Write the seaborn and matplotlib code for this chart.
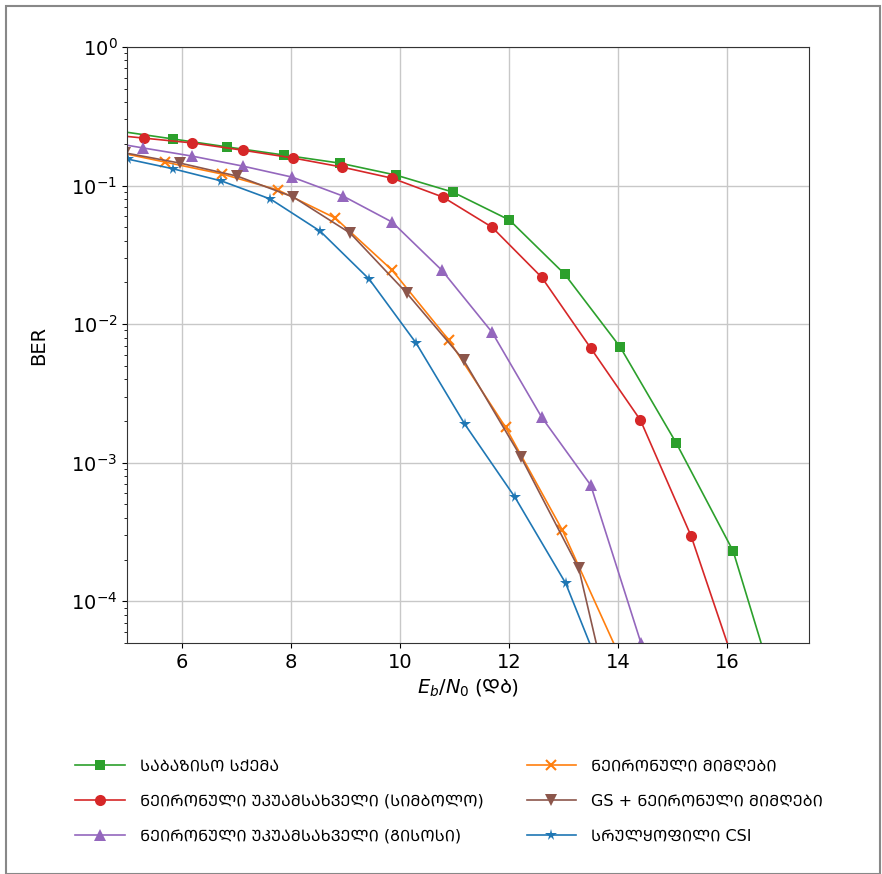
import numpy as np
import pandas as pd
import matplotlib
matplotlib.use("Agg")
import matplotlib.pyplot as plt
import seaborn as sns
from matplotlib.patches import Rectangle

# Eb/N0 (dB) and BER per scheme
baseline_x = [4.80, 5.84, 6.84, 7.88, 8.91, 9.93, 10.97, 12.01, 13.02, 14.04, 15.07, 16.11, 17.13]
baseline_ber = [0.249, 0.217, 0.190, 0.166, 0.145, 0.119, 0.0898, 0.0564, 0.0230, 0.00683, 0.00138, 2.30e-4, 1.1e-5]

demap_sym_x = [4.40, 5.31, 6.20, 7.12, 8.05, 8.94, 9.86, 10.79, 11.69, 12.60, 13.50, 14.41, 15.34, 16.26]
demap_sym_ber = [0.239, 0.220, 0.203, 0.180, 0.158, 0.136, 0.113, 0.0826, 0.0501, 0.0218, 0.00671, 0.00203, 2.95e-4, 2.5e-5]

demap_grid_x = [4.38, 5.29, 6.20, 7.13, 8.03, 8.96, 9.86, 10.77, 11.69, 12.60, 13.50, 14.42, 15.33]
demap_grid_ber = [0.215, 0.187, 0.163, 0.138, 0.115, 0.0840, 0.0545, 0.0245, 0.00875, 0.00213, 6.88e-4, 5.0e-5, 3.3e-6]

rx_x = [4.65, 5.69, 6.75, 7.77, 8.82, 9.86, 10.90, 11.94, 12.98, 14.03]
rx_ber = [0.180, 0.148, 0.121, 0.0928, 0.0582, 0.0245, 0.00766, 0.00180, 3.26e-4, 4.0e-5]

gs_rx_x = [4.97, 5.98, 7.02, 8.05, 9.09, 10.13, 11.17, 12.22, 13.28, 14.30]
gs_rx_ber = [0.172, 0.145, 0.117, 0.0826, 0.0454, 0.0167, 0.00550, 0.00110, 1.73e-4, 3.3e-6]

csi_x = [5.02, 5.85, 6.73, 7.63, 8.54, 9.44, 10.30, 11.19, 12.11, 13.04, 13.93]
csi_ber = [0.155, 0.132, 0.108, 0.0799, 0.0469, 0.0211, 0.00729, 0.00190, 5.64e-4, 1.35e-4, 1.8e-5]

labels = [
    "ᲡᲐᲑᲐᲖᲘᲡᲝ ᲡᲥᲔᲛᲐ",
    "ᲜᲔᲘᲠᲝᲜᲣᲚᲘ ᲣᲙᲣᲐᲛᲡᲐᲮᲕᲔᲚᲘ (ᲡᲘᲛᲑᲝᲚᲝ)",
    "ᲜᲔᲘᲠᲝᲜᲣᲚᲘ ᲣᲙᲣᲐᲛᲡᲐᲮᲕᲔᲚᲘ (ᲒᲘᲡᲝᲡᲘ)",
    "ᲜᲔᲘᲠᲝᲜᲣᲚᲘ ᲛᲘᲛᲦᲔᲑᲘ",
    "GS + ᲜᲔᲘᲠᲝᲜᲣᲚᲘ ᲛᲘᲛᲦᲔᲑᲘ",
    "ᲡᲠᲣᲚᲧᲝᲤᲘᲚᲘ CSI",
]
# the unit (dB) is set in the Georgian sans face via \mathsf
xlabel = r"$E_b/N_0\ \mathsf{(ᲓᲑ)}$"
ylabel = "BER"

series = [
    (baseline_x, baseline_ber, "tab:green", "s", 7, 0.0),
    (demap_sym_x, demap_sym_ber, "tab:red", "o", 8, 0.0),
    (demap_grid_x, demap_grid_ber, "tab:purple", "^", 8, 0.0),
    (rx_x, rx_ber, "tab:orange", "x", 7, 1.5),
    (gs_rx_x, gs_rx_ber, "tab:brown", "v", 8, 0.0),
    (csi_x, csi_ber, "tab:blue", "*", 8.5, 0.0),
]

plt.rcParams["font.family"] = ["DejaVu Sans", "Noto Sans Georgian"]
plt.rcParams["mathtext.fontset"] = "custom"
plt.rcParams["mathtext.rm"] = "DejaVu Sans"
plt.rcParams["mathtext.it"] = "DejaVu Sans:italic"
plt.rcParams["mathtext.bf"] = "DejaVu Sans:bold"
plt.rcParams["mathtext.sf"] = "Noto Sans Georgian"

fig = plt.figure(figsize=(8.82, 8.74), dpi=100)
ax = fig.add_axes([127 / 882, 1 - 643 / 874, (809 - 127) / 882, (643 - 47) / 874])

for (xs, ys, color, marker, ms, mew), label in zip(series, labels):
    df = pd.DataFrame({"ebno": xs, "ber": ys})
    sns.lineplot(data=df, x="ebno", y="ber", ax=ax, color=color, marker=marker,
                 markersize=ms, markeredgecolor=color, markeredgewidth=mew,
                 linewidth=1.2, label=label, estimator=None, sort=False)

ax.set_yscale("log")
ax.set_xlim(5, 17.5)
ax.set_ylim(5e-5, 1)
ax.set_xticks([6, 8, 10, 12, 14, 16])
ax.grid(True, which="major", color="#c8c8c8", linewidth=1.0)
ax.tick_params(axis="both", which="major", labelsize=14)
ax.set_xlabel(xlabel, fontsize=14)
ax.set_ylabel(ylabel, fontsize=14)
ax.yaxis.set_label_coords(-0.116, 0.5)
for s in ax.spines.values():
    s.set_color("#333333")

ax.legend(loc="upper left", bbox_to_anchor=(75 / 882, 1 - 759 / 874),
          bbox_transform=fig.transFigure, ncol=2, frameon=False, fontsize=11.5,
          borderpad=0, borderaxespad=0, handlelength=3.1, handletextpad=0.95,
          labelspacing=1.25, columnspacing=2.7)

fig.patches.append(Rectangle((6 / 882, 0), 874 / 882, 1 - 6 / 874, transform=fig.transFigure,
                             fill=False, edgecolor="#888888", linewidth=1.5))

fig.savefig("out.png", dpi=100)
